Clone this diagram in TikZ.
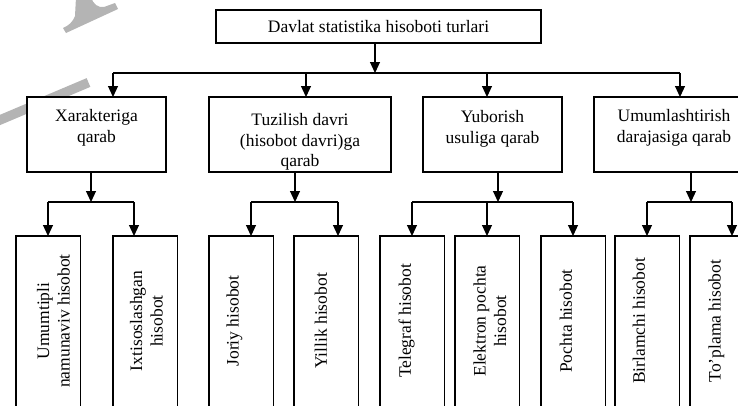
\documentclass[tikz,border=0pt]{standalone}
\usepackage{fontspec}
\setmainfont{Liberation Serif}
\usetikzlibrary{arrows.meta}
\definecolor{wmgray}{RGB}{180,180,180}
\begin{document}
\begin{tikzpicture}[x=1pt,y=-1pt,
  line width=1.1pt,
  box/.style={draw, fill=white, rectangle, inner sep=0pt, outer sep=0pt, anchor=north west},
  lbl/.style={font=\fontsize{17.5}{20.5}\selectfont, align=center, inner sep=0pt},
  toplbl/.style={lbl, anchor=north},
  vlbl/.style={lbl, rotate=90},
  arr/.style={-{Triangle[width=10pt,length=11pt]}},
]
\useasboundingbox (0,0) rectangle (738,405);
\clip (0,0) rectangle (738,405);

% grey logo strokes in the corner
\fill[wmgray] (76,-3) -- (75,16) .. controls (73,22) and (68,26) .. (63,28)
  -- (66,33) -- (118,9) -- (115,3) -- (104,7) .. controls (98,8) and (93,4) .. (91,-3) -- cycle;
\draw[wmgray, line width=9.5pt] (-6,122.5) -- (88.5,82.5);

% root
\node[box, minimum width=325pt, minimum height=33pt] (top) at (216,10) {};
\node[lbl] (ttop) at (378.5,27) {Davlat statistika hisoboti turlari};

% second level
\node[box, minimum width=139pt, minimum height=75pt] (c1) at (27,97) {};
\node[box, minimum width=182pt, minimum height=75pt] (c2) at (209,97) {};
\node[box, minimum width=139pt, minimum height=75pt] (c3) at (423,97) {};
\node[box, minimum width=160pt, minimum height=75pt] (c4) at (594,97) {};
\node[toplbl] (tc1) at (96.5,109) {Xarakteriga\\qarab};
\node[toplbl] (tc2) at (300,113) {Tuzilish davri\\(hisobot davri)ga\\qarab};
\node[toplbl] (tc3) at (492.5,110) {Yuborish\\usuliga qarab};
\node[toplbl] (tc4) at (674,109) {Umumlashtirish\\darajasiga qarab};

% third level (boxes run past the lower edge)
\foreach \n/\x in {d11/16, d12/113, d21/209, d22/294, d31/380, d32/455, d33/541, d41/615, d42/690}
  \node[box, minimum width=64.5pt, minimum height=190pt] (\n) at (\x,236) {};
\node[vlbl] (td11) at (53.5,321) {Umumtipli\\namunaviv hisobot};
\node[vlbl] (td12) at (146.5,321) {Ixtisoslashgan\\hisobot};
\node[vlbl] (td21) at (234.5,321) {Joriy hisobot};
\node[vlbl] (td22) at (321,321) {Yillik hisobot};
\node[vlbl] (td31) at (406.5,321) {Telegraf hisobot};
\node[vlbl] (td32) at (490,321) {Elektron pochta\\hisobot};
\node[vlbl] (td33) at (566,321) {Pochta hisobot};
\node[vlbl] (td41) at (639,321) {Birlamchi hisobot};
\node[vlbl] (td42) at (716.5,321) {To'plama hisobot};

% main bus
\coordinate (tj) at (375,73);
\coordinate (b1) at (113,73);
\coordinate (b2) at (306,73);
\coordinate (b3) at (487,73);
\coordinate (b4) at (680,73);
\draw[arr] (tj |- top.south) -- (tj);
\draw (b1) -- (b4);
\draw[arr] (b1) -- (b1 |- c1.north);
\draw[arr] (b2) -- (b2 |- c2.north);
\draw[arr] (b3) -- (b3 |- c3.north);
\draw[arr] (b4) -- (b4 |- c4.north);

% sub buses
\coordinate (s1) at (91,202);
\coordinate (s2) at (295,202);
\coordinate (s3) at (498,202);
\coordinate (s4) at (691,202);
\draw[arr] (s1 |- c1.south) -- (s1);
\draw[arr] (s2 |- c2.south) -- (s2);
\draw[arr] (s3 |- c3.south) -- (s3);
\draw[arr] (s4 |- c4.south) -- (s4);

\coordinate (s11) at (48,202);  \coordinate (s12) at (134,202);
\coordinate (s21) at (251,202); \coordinate (s22) at (338,202);
\coordinate (s31) at (412,202); \coordinate (s32) at (487,202); \coordinate (s33) at (573,202);
\coordinate (s41) at (647,202); \coordinate (s42) at (732,202);
\draw (s11) -- (s12);
\draw (s21) -- (s22);
\draw (s31) -- (s33);
\draw (s41) -- (s42);
\draw[arr] (s11) -- (s11 |- d11.north);
\draw[arr] (s12) -- (s12 |- d12.north);
\draw[arr] (s21) -- (s21 |- d21.north);
\draw[arr] (s22) -- (s22 |- d22.north);
\draw[arr] (s31) -- (s31 |- d31.north);
\draw[arr] (s32) -- (s32 |- d32.north);
\draw[arr] (s33) -- (s33 |- d33.north);
\draw[arr] (s41) -- (s41 |- d41.north);
\draw[arr] (s42) -- (s42 |- d42.north);
\end{tikzpicture}
\end{document}
